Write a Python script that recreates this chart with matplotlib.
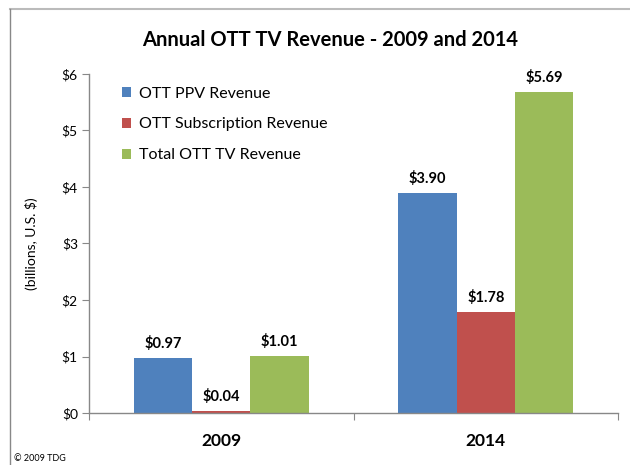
import matplotlib
matplotlib.use("Agg")
import matplotlib.pyplot as plt
from matplotlib.lines import Line2D
from matplotlib.patches import Patch

years = ["2009", "2014"]
series_names = ["OTT PPV Revenue", "OTT Subscription Revenue", "Total OTT TV Revenue"]
ppv = [0.97, 3.90]
subscription = [0.04, 1.78]
total = [1.01, 5.69]
colors = ["#4F81BD", "#C0504D", "#9BBB59"]
yticks = [0, 1, 2, 3, 4, 5, 6]

plt.rcParams['font.family'] = ['Lato', 'DejaVu Sans']

fig = plt.figure(figsize=(6.3, 4.65), dpi=100)
ax = fig.add_axes([89/630, 1-413/465, (618-89)/630, (413-74)/465])

width = 0.221
offsets = [-width, 0, width]
for vals, off, col, name in zip([ppv, subscription, total], offsets, colors, series_names):
    xs = [i + off for i in range(len(years))]
    ax.bar(xs, vals, width=width, color=col, label=name, edgecolor='none')
    for x, v in zip(xs, vals):
        ax.annotate(f"${v:.2f}", (x, v), xytext=(0, 5), textcoords='offset points',
                    ha='center', va='bottom', fontsize=10.5, fontweight='bold')

ax.set_xlim(-0.5, 1.5)
ax.set_ylim(0, 6)
ax.set_yticks(yticks)
ax.set_yticklabels([f"${t}" for t in yticks], fontsize=10)
ax.set_xticks([-0.5, 0.5, 1.5])
ax.set_xticklabels([])
ax.tick_params(axis='x', direction='out', length=5, color='#888888')
ax.tick_params(axis='y', direction='out', length=5, color='#888888', pad=3)
for s in ['top', 'right']:
    ax.spines[s].set_visible(False)
for s in ['left', 'bottom']:
    ax.spines[s].set_color('#888888')
    ax.spines[s].set_linewidth(1)

for i, y in enumerate(years):
    ax.text(i, -0.49, y, ha='center', va='center', fontsize=12.5, fontweight='bold',
            transform=ax.transData)

ax.set_ylabel("(billions, U.S. $)", fontsize=10, labelpad=17)

handles = [Patch(facecolor=c, edgecolor='none') for c in colors]
leg = ax.legend(handles, series_names, loc='upper left', bbox_to_anchor=(0.035, 1.005),
                frameon=False, fontsize=11.5, handlelength=0.6, handleheight=0.6,
                handletextpad=0.5, labelspacing=1.05)

fig.text(330/630, 1-40/465, "Annual OTT TV Revenue - 2009 and 2014", ha='center', va='center',
         fontsize=14.5, fontweight='bold')
fig.text(14/630, 1-458/465, "© 2009 TDG", ha='left', va='center', fontsize=6.5)

fig.add_artist(Line2D([10/630, 1], [1-9/465, 1-9/465], color='#BBBBBB', lw=1.5, transform=fig.transFigure))
fig.add_artist(Line2D([10/630, 10/630], [0, 1-9/465], color='#888888', lw=1, transform=fig.transFigure))

fig.savefig("out.png", dpi=100)
